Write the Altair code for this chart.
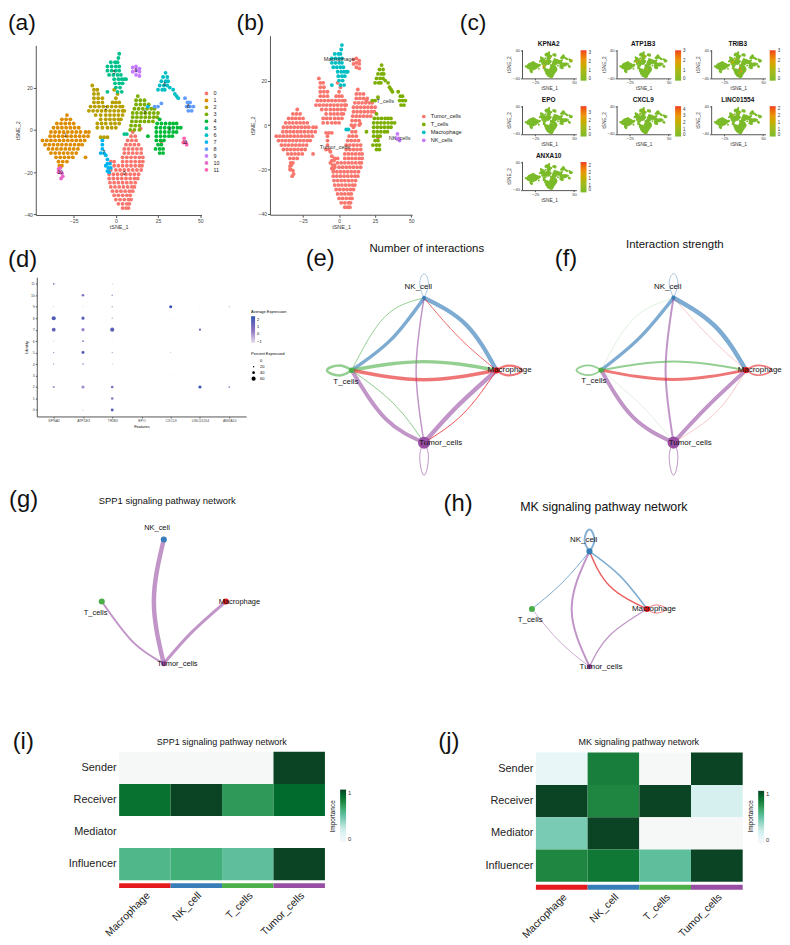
import altair as alt
import pandas as pd

FONT = "Liberation Sans"
AX = "#555555"

# ---------- t-SNE map, read row by row per cluster: (y, [x, ...])
C0 = [(-1,[10]),(-3,[9,11.5]),(-5,[7,9.5,12]),(-7,[6,8.5,11,13.5]),(-9,[5,7.5,10,12.5,15]),(-11,[5,7.5,10,12.5,15]),
      (-13,[4,6.5,9,11.5,14,16]),(-15,[-3,-1,4,6.5,9,11.5,14,16]),(-17,[-1,1.5,4,6.5,9,11.5,14,15.5]),
      (-19,[-3,0,2.5,5,7.5,10,12.5,15]),(-21,[-4,-1.5,1,3.5,6,8.5,11,13.5]),(-23,[-4,-1.5,1,3.5,6,8.5,11,13]),
      (-25,[-3.5,-1,1.5,4,6.5,9,11.5]),(-27,[-3,-.5,2,4.5,7,9.5,11]),(-29,[-2,.5,3,5.5,8,10]),(-31,[-1,1.5,4,6.5,8.5]),
      (-33,[0,2.5,5,7.5,9]),(-35,[1.5,4,6.5,8]),(-37,[4,6,7.5]),(.6,[14.7]),(-5.6,[27])]
C1 = [(7,[-29]),(5,[-32,-29.5,-27]),(3,[-35,-32.5,-30,-27.5,-25]),(1,[-37,-34.5,-32,-29.5,-27,-24.5,-22]),
      (-1,[-38.5,-36,-33.5,-31,-28.5,-26,-23.5,-21,-18,-16]),(-3,[-39,-36.5,-34,-31.5,-29,-26.5,-24,-21.5,-19,-16.5]),
      (-5,[-43.5,-41,-38.5,-36,-33.5,-31,-28.5,-26,-23.5,-21,-18.5]),(-7,[-42,-39.5,-37,-34.5,-32,-29.5,-27,-24.5,-22,-20]),
      (-9,[-40,-37.5,-35,-32.5,-30,-27.5,-25,-22.5]),(-11,[-38.5,-36,-33.5,-31,-28.5,-26,-23.5]),
      (-13,[-35.5,-33,-30.5,-28,-25.5,-18]),(-15,[-34,-31.5,-29]),(-17,[-33.5,-32])]
C2 = [(21,[-14]),(19,[-13,-11,-1]),(17,[-13,-10.5,1]),(15,[-13,-10.5,-8,0]),(13,[-13,-10.5,-8,-2,0,2]),
      (11,[-15,-12.5,-10,-7.5,-5,-2.5,0,2.5,4]),(9,[-16,-13.5,-11,-8.5,-6,-3.5,-1,1.5,4,5]),(7,[-12,-9,-6,-3.5,-1,1.5,4]),
      (5,[-9,-6,-3.5,-1,1.5,3]),(3,[-11,-8.5,-6,-3,-.5,2]),(1,[-11,-8,-5,-2.5,0]),(-3.5,[-9,-7,-5])]
C3 = [(16,[13]),(14,[12,14.5,17]),(12,[12,14.5,17,19.5]),(10,[11,13.5,16,18.5,21,23]),(8,[10,12.5,15,17.5,20,22.5,25]),
      (6,[10,12.5,15,17.5,20,22.5,24.5]),(4,[9.5,12,14.5,17,19.5,22]),(2,[9,11.5,14]),(0,[8.5,11,14])]
C4 = [(5,[26]),(3,[24.5,27,29.5,32,34,36]),(1,[24,26.5,29,31.5,34,36.5,38.5]),(-1,[24,26.5,29,31.5,34,36]),
      (-3,[24,26.5,29,31.5,33.5,19]),(-5,[24,26.5,28.5]),(-7,[25,27]),(-9,[23.5,26,28]),(-11,[26,28])]
C5 = [(36,[2]),(34,[1.5]),(32,[-3,-.5,1]),(30,[-5,-2.5,0,2]),(28,[-5,-2.5,0,2]),(26,[-4,-1.5,1,3]),(24,[-1,1.5,3.5,5,6]),
      (22,[-.5,2,4]),(20,[0,2.5]),(18,[1,3.5,-5]),(-2,[5,6.5])]
C6 = [(27,[29.5]),(25,[28,30.5]),(23,[27,29.5,31]),(21,[26,28.5,30.5]),(19,[25,27.5,29,34]),(20,[32]),(17,[35]),(16,[36]),(15,[37])]
C7 = [(-5,[-8]),(-7,[-8]),(-9,[-8]),(-11,[-9,-7]),(-12,[-6]),(-14,[-5]),(-16,[-5,-3.5]),(-17,[-6]),(-18,[-4.5,-3]),(-19.5,[-5]),(-20,[-4]),(11,[19])]
C8 = [(15,[41]),(13,[42.5,44]),(11,[42,44,46,23,25]),(12.5,[27]),(9,[43,45])]
C9 = [(30,[12]),(29.5,[10]),(29,[14]),(28,[12]),(27.5,[10,14]),(26,[12]),(25.5,[14])]
C10 = [(-18,[-33]),(-18.5,[-34]),(-20,[-33.5,-34]),(-20.5,[-32]),(-22,[-31.5]),(-23,[-32.5])]
C11 = [(-4,[40.5]),(-6,[40,41.5]),(-7,[42])]
CLUSTERS = [C0, C1, C2, C3, C4, C5, C6, C7, C8, C9, C10, C11]
CL_NAMES = [str(i) for i in range(12)]
CL_COLORS = ["#F8766D","#DE8C00","#B79F00","#7CAE00","#00BA38","#00C08B","#00BFC4","#00B4F0","#619CFF","#C77CFF","#E868C8","#FF64B0"]
CL_CENTERS = [(5,-21),(-30,-3),(-6,10),(17,8),(32,0),(-1,27),(29,21),(-7,-11),(43,11),(12,28),(-33,-20.5),(41,-6)]
CELL_OF_CLUSTER = ["Tumor_cells","Tumor_cells","Tumor_cells","Tumor_cells","T_cells","Macrophage","T_cells","Tumor_cells","T_cells","Tumor_cells","Tumor_cells","NK_cells"]
CELL_NAMES = ["Tumor_cells","T_cells","Macrophage","NK_cells"]
CELL_COLORS = ["#F8766D","#7CAE00","#00BFC4","#C77CFF"]
CELL_LABELS = [("Macrophage",0,29.5),("T_cells",32,10.7),("NK_cells",42,-5.7),("Tumor_cells",-3,-9.7)]

rows = []
for k, cl in enumerate(CLUSTERS):
    for y, xs in cl:
        for x in xs:
            rows.append({"x": x, "y": y, "cluster": str(k), "cell": CELL_OF_CLUSTER[k]})
tsne = pd.DataFrame(rows)

# ---------- feature plots
GENES = ["KPNA2","ATP1B3","TRIB3","EPO","CXCL9","LINC01554","ANXA10"]
GENE_MAX = [3.3,3.1,3.05,3.9,4.5,2.2,2.3]
GENE_TICKS = [[0,1,2,3],[0,1,2,3],[0,1,2,3],[0,1,2,3],[0,1,2,3,4],[0,.5,1,1.5,2],[0,.5,1,1.5,2]]
GENE_POINTS = [
 [(-9,-7,2.5),(-8,-4,1.5),(45,12,2),(-5,9,1),(5,22,1)],
 [(-12,8,2),(-5,12,1.5),(3,25,1.5),(8,-15,1)],
 [(-8,8,1.5),(-3,15,1.2),(5,-12,2.5),(8,-20,2),(4,-25,1.5),(-10,5,1.5)],
 [(10,-10,.5)],
 [(3,30,2),(-5,20,1.5)],
 [(-8,15,.8),(3,22,.8)],
 [(8,-10,.5)],
]

# ---------- dot plot
FEATURES = GENES
IDS = [str(i) for i in range(12)]
DOT_PCT = [[8,8,30,4,17,17,13,56,60,13,6,25],[15,8,47,4,20,43,25,47,47,12,38,8],[43,38,38,8,12,17,8,60,17,22,25,12],
           [4,1,1,1,1,1,1,3,1,1,1,1],[1,1,4,6,5,9,5,3,6,45,1,1],[4,1,45,1,4,3,1,30,1,8,1,1],[3,2,20,1,1,1,1,4,1,12,1,2]]
DOT_EXP = [[-.6,-.6,.2,-.8,.7,.8,.2,1.6,2,-.2,-.5,.9],[-.3,-.7,.1,-.9,1,1.9,1,.3,1.8,-.4,.8,-.6],[1.8,.5,1,-.6,.3,.1,-.5,1.7,.1,-.2,-.2,.2],
           [.2,-1,-1,-1,-1,-1,-1,-.6,-1,-1,-1,-1],[-1,-1,-.4,.2,.1,1.8,.2,-.8,.4,2.3,-1,-1],[-.3,-1,2.4,-1,-.2,-.5,-1,1.7,-1,.3,-1,-.8],[-.7,-.9,2.2,-1,-1,-1,-1,.1,-1,2.2,-1,-1]]

# ---------- networks (unit-circle layout)
NODES = ["Macrophage","NK_cell","T_cells","Tumor_cells"]
NODE_COLORS = ["#E41A1C","#377EB8","#4DAF4A","#984EA3"]
POS = {"NK_cell":(0,1),"T_cells":(-1,0),"Macrophage":(1,0),"Tumor_cells":(0,-1)}
# (source, target, mid u, mid v, width, alpha)
E_EDGES = [("NK_cell","Macrophage",.58,.63,4.2,.65),("NK_cell","T_cells",-.46,.42,3.5,.65),("T_cells","NK_cell",-.54,.74,1,.6),
           ("Macrophage","NK_cell",.49,.445,1,.65),("Tumor_cells","NK_cell",-.11,0,1.5,.6),("T_cells","Macrophage",0,.12,3.5,.6),
           ("Macrophage","T_cells",0,-.13,3.5,.6),("Tumor_cells","T_cells",-.53,-.67,4,.6),("T_cells","Tumor_cells",-.42,-.46,1,.65),
           ("Tumor_cells","Macrophage",.445,-.51,4.5,.6),("Macrophage","Tumor_cells",.54,-.6,1,.75)]
F_EDGES = [("NK_cell","Macrophage",.58,.6,4.5,.65),("NK_cell","T_cells",-.47,.445,3.5,.65),("T_cells","NK_cell",-.56,.7,.5,.35),
           ("Macrophage","NK_cell",.51,.445,.6,.4),("Tumor_cells","NK_cell",-.11,0,2,.6),("T_cells","Macrophage",0,.12,2,.6),
           ("Macrophage","T_cells",0,-.13,3,.6),("Tumor_cells","T_cells",-.56,-.65,4,.6),("T_cells","Tumor_cells",-.42,-.51,.5,.35),
           ("Tumor_cells","Macrophage",.46,-.51,4,.6),("Macrophage","Tumor_cells",.59,-.58,.6,.4)]
G_EDGES = [("Tumor_cells","NK_cell",-.16,0,4.5,.6),("Tumor_cells","T_cells",-.5,-.65,2,.6),("Tumor_cells","Macrophage",.456,-.49,3,.6)]
H_EDGES = [("NK_cell","Macrophage",.53,.575,1.5,.65),("Macrophage","NK_cell",.35,.40,1.5,.7),("NK_cell","T_cells",-.47,.46,1,.65),
           ("Tumor_cells","NK_cell",-.31,0,2,.6),("Tumor_cells","T_cells",-.51,-.575,.8,.6),("Tumor_cells","Macrophage",.35,-.46,1.3,.6)]
LOOP_T = [(-1,0),(-1.17,.065),(-1.34,0),(-1.17,-.07),(-1,0)]
LOOP_M = [(1,0),(1.17,.065),(1.35,0),(1.17,-.07),(1,0)]
LOOP_N = [(0,1),(.06,1.2),(0,1.33),(-.06,1.2),(0,1)]
LOOP_U = [(0,-1),(.06,-1.2),(0,-1.45),(-.06,-1.2),(0,-1)]
E_LOOPS = [("T_cells",LOOP_T,2.5,.6),("Macrophage",LOOP_M,2.2,.6),("NK_cell",LOOP_N,.7,.6),("Tumor_cells",LOOP_U,1,.6)]
F_LOOPS = [("T_cells",LOOP_T,1.8,.6),("Macrophage",LOOP_M,1.6,.6),("NK_cell",LOOP_N,.7,.6),("Tumor_cells",LOOP_U,1,.6)]
H_LOOPS = [("NK_cell",[(0,1),(.085,1.2),(0,1.38),(-.085,1.2),(0,1)],2,.6),("Macrophage",[(1,0),(1.16,.07),(1.33,0),(1.16,-.07),(1,0)],.8,.7)]
E_SIZES = [40,12,30,150]
G_SIZES = [38,38,38,28]
E_LABELS = [("NK_cell",-.08,1.15),("T_cells",-1.08,-.155),("Macrophage",1.18,0),("Tumor_cells",.23,-1)]
F_LABELS = [("NK_cell",-.08,1.15),("T_cells",-1.1,-.155),("Macrophage",1.19,0),("Tumor_cells",.23,-1)]
G_LABELS = [("NK_cell",-.11,1.19),("T_cells",-1.1,-.18),("Macrophage",1.22,0),("Tumor_cells",.22,-1)]
H_LABELS = [("NK_cell",-.1,1.19),("T_cells",-1.03,-.19),("Macrophage",1.12,0),("Tumor_cells",.2,-1)]

# ---------- heatmaps
ROLES = ["Sender","Receiver","Mediator","Influencer"]
I_VALS = [[0,0,0,1],[.85,1,.7,.88],[None,None,None,None],[.57,.62,.52,1]]
J_VALS = [[.1,.8,0,1],[1,.77,1,.2],[.45,1,0,0],[.77,.83,.52,1]]
BUGN_STOPS = [0,.125,.25,.375,.5,.625,.75,.875,1]
BUGN = ["#F6F8F8","#E5F5F9","#CCECE6","#99D8C9","#66C2A4","#41AE76","#238B45","#006D2C","#0B4425"]

INDEP = dict(color="independent", size="independent", fill="independent", opacity="independent")
R1, R2, R3, R4 = 8, 232, 480, 730


def annot(text, x, y, size, align="center", weight="normal", angle=0, color="#111111"):
    d = pd.DataFrame({"t": [text]})
    return alt.Chart(d).mark_text(fontSize=size, align=align, baseline="alphabetic", fontWeight=weight,
                                  angle=angle, color=color).encode(x=alt.value(x), y=alt.value(y), text="t:N")


def spacer(w, h=1):
    d = pd.DataFrame({"a": [0]})
    return alt.Chart(d).mark_point(opacity=0, size=0, strokeWidth=0).encode(x=alt.value(0), y=alt.value(0)).properties(width=w, height=h)


def axis(values, title, lab=5, tit=5.5, pad=2, tick=2.5):
    return alt.Axis(values=values, title=title, grid=False, labelFontSize=lab, titleFontSize=tit, tickSize=tick,
                    domainColor=AX, tickColor=AX, labelColor="#444444", titleColor="#333333", titleFontWeight="normal",
                    titlePadding=pad, labelPadding=1, labelFlush=False, labelOverlap=False)


def tsne_base(xd, yd, w, h, ytop, xax, yax):
    return alt.Chart(tsne).encode(
        x=alt.X("x:Q", scale=alt.Scale(domain=xd, nice=False, zero=False), axis=xax),
        y=alt.Y("y:Q", scale=alt.Scale(domain=yd, range=[h, ytop], nice=False, zero=False), axis=yax))


# panel a
AL, AT, AW, AH = 36, R1, 167, 205
a_pts = tsne_base([-47.5, 50.8], [-40.3, 40], AW, AH, 34, axis([-25, 0, 25, 50], "tSNE_1", pad=1.5),
                  axis([-40, -20, 0, 20], "tSNE_2", pad=3)).mark_circle(size=15, opacity=1).encode(
    color=alt.Color("cluster:N", scale=alt.Scale(domain=CL_NAMES, range=CL_COLORS),
                    legend=alt.Legend(orient="none", legendX=169, legendY=79, title=None, labelFontSize=5.5, symbolSize=14,
                                      symbolType="circle", clipHeight=7, rowPadding=0, labelColor="#222222", symbolOffset=0)))
a_txt = alt.Chart(pd.DataFrame({"x": [c[0] for c in CL_CENTERS], "y": [c[1] for c in CL_CENTERS], "t": CL_NAMES})).mark_text(
    fontSize=4.5, color="#111111").encode(x=alt.X("x:Q"), y=alt.Y("y:Q"), text="t:N")
panel_a = alt.layer(a_pts, a_txt, annot("(a)", 8 - AL, 26.5 - AT, 23, "left")).properties(width=AW, height=AH)

# panel b
BL, BT, BW, BH = 271.7, R1, 143.3, 204.7
b_pts = tsne_base([-47.9, 50.7], [-40.35, 40.2], BW, BH, 24.3, axis([-25, 0, 25, 50], "tSNE_1", pad=1.5),
                  axis([-40, -20, 0, 20], "tSNE_2", pad=3)).mark_circle(size=15, opacity=1).encode(
    color=alt.Color("cell:N", scale=alt.Scale(domain=CELL_NAMES, range=CELL_COLORS),
                    legend=alt.Legend(orient="none", legendX=152, legendY=102, title=None, labelFontSize=5.6, symbolSize=14,
                                      symbolType="circle", clipHeight=7.4, rowPadding=0, labelColor="#222222")))
b_txt = alt.Chart(pd.DataFrame({"x": [c[1] for c in CELL_LABELS], "y": [c[2] for c in CELL_LABELS], "t": [c[0] for c in CELL_LABELS]})).mark_text(
    fontSize=5.6, color="#333333").encode(x=alt.X("x:Q"), y=alt.Y("y:Q"), text="t:N")
panel_b = alt.layer(b_pts, b_txt, annot("(b)", 238 - BL, 26.5 - BT, 23, "left"), annot("(c)", 463 - BL, 26.5 - BT, 23, "left")).properties(width=BW, height=BH)


# panel c
def feature(i):
    w, h = 54.7, 29
    base = tsne_base([-50.6, 54.5], [-41, 43.7], w, h, 0, axis([-25, 0, 25, 50], "tSNE_1", 4.2, 4.8, 1, 1.5),
                     axis([-40, -20, 0, 20, 40], "tSNE_2", 4.2, 4.8, 1, 1.5)).mark_circle(size=4, opacity=1, color="#7CBB2B")
    d = pd.DataFrame(GENE_POINTS[i], columns=["x", "y", "v"])
    hi = alt.Chart(d).mark_circle(size=4, opacity=1).encode(
        x="x:Q", y="y:Q",
        color=alt.Color("v:Q", scale=alt.Scale(domain=[0, GENE_MAX[i]], range=["#7CBB2B", "#A9B81A", "#E89A12", "#F03A20"]),
                        legend=alt.Legend(orient="none", legendX=59, legendY=.7, title=None, values=GENE_TICKS[i], gradientLength=30.6,
                                          gradientThickness=6, labelFontSize=4.5, labelOverlap=False, labelColor="#333333",
                                          gradientStrokeWidth=0)))
    return alt.layer(base, hi, annot(GENES[i], w / 2 - .5, -3.5, 6.5, weight="bold")).properties(width=w, height=h)


panel_c = alt.concat(spacer(54.7, 10.7), spacer(54.7, 10.7), spacer(54.7, 10.7), *[feature(i) for i in range(7)], columns=3,
                     spacing={"row": 27.3, "column": 40.3}, bounds="flush").resolve_scale(**INDEP)

# panel d
DL, DT, DW, DH = 37, R2, 211, 184
dot = pd.DataFrame([{"f": FEATURES[i], "id": IDS[j], "pct": DOT_PCT[i][j], "exp": DOT_EXP[i][j]} for i in range(7) for j in range(12)])
d_pts = alt.Chart(dot).mark_circle(opacity=1).encode(
    x=alt.X("f:N", sort=FEATURES, scale=alt.Scale(type="point", padding=.58),
            axis=alt.Axis(title="Features", labelAngle=0, labelFontSize=3.5, titleFontSize=4, tickSize=1.5, domainColor=AX, tickColor=AX,
                          labelColor="#444444", titleFontWeight="normal", titlePadding=2, labelPadding=1, grid=False)),
    y=alt.Y("id:N", scale=alt.Scale(type="point", domain=IDS, range=[DH, 43.7], padding=.57),
            axis=alt.Axis(title="Identity", labelFontSize=3.5, titleFontSize=4, tickSize=1.5, domainColor=AX, tickColor=AX,
                          labelColor="#444444", titleFontWeight="normal", titlePadding=2, labelPadding=1, grid=False)),
    size=alt.Size("pct:Q", scale=alt.Scale(type="pow", exponent=2, domain=[0, 60], range=[.1, 17]),
                  legend=alt.Legend(orient="none", legendX=216, legendY=119, title="Percent Expressed", values=[0, 20, 40, 60], titleFontSize=4,
                                    titleFontWeight="normal", labelFontSize=4, clipHeight=5.8, rowPadding=0, titlePadding=2,
                                    symbolFillColor="black", symbolStrokeWidth=0, symbolType="circle")),
    color=alt.Color("exp:Q", scale=alt.Scale(domain=[-1.2, .5, 2.5], range=["#E8E2F0", "#8F75C0", "#2A52B0"]),
                    legend=alt.Legend(orient="none", legendX=216, legendY=77, title="Average Expression", values=[-1, 0, 1, 2], titleFontSize=4,
                                      titleFontWeight="normal", labelFontSize=4, gradientLength=27, gradientThickness=4, titlePadding=2,
                                      gradientStrokeWidth=0, labelOverlap=False)))
panel_d = alt.layer(d_pts, annot("(d)", 8 - DL, 265 - DT, 24, "left")).properties(width=DW, height=DH)


# networks
def network(edges, loops, sizes, labels, cx, cy, R, left, right, top, bottom, fs, extra):
    pts = []
    n = 0
    for s, t, mu, mv, w, al in edges:
        for i, (u, v) in enumerate([POS[s], (mu, mv), POS[t]]):
            pts.append({"e": n, "i": i, "u": u, "v": v, "src": s, "w": w, "al": al})
        n += 1
    for s, path, w, al in loops:
        for i, (u, v) in enumerate(path):
            pts.append({"e": n, "i": i, "u": u, "v": v, "src": s, "w": w, "al": al})
        n += 1
    W, H = right - left, bottom - top
    xs = alt.Scale(domain=[(left - cx) / R, (right - cx) / R], nice=False, zero=False)
    ys = alt.Scale(domain=[(cy - bottom) / R, (cy - top) / R], nice=False, zero=False)
    col = alt.Scale(domain=NODES, range=NODE_COLORS)
    lines = alt.Chart(pd.DataFrame(pts)).mark_line(interpolate="natural", strokeCap="round").encode(
        x=alt.X("u:Q", scale=xs, axis=None), y=alt.Y("v:Q", scale=ys, axis=None), detail="e:N", order="i:Q",
        color=alt.Color("src:N", scale=col, legend=None), size=alt.Size("w:Q", scale=None, legend=None),
        opacity=alt.Opacity("al:Q", scale=None, legend=None))
    nd = pd.DataFrame({"n": NODES, "u": [POS[k][0] for k in NODES], "v": [POS[k][1] for k in NODES], "s": sizes})
    dots = alt.Chart(nd).mark_circle(opacity=1).encode(x="u:Q", y="v:Q", color=alt.Color("n:N", scale=col, legend=None),
                                                       size=alt.Size("s:Q", scale=None, legend=None))
    lab = pd.DataFrame(labels, columns=["t", "u", "v"])
    txt = alt.Chart(lab).mark_text(fontSize=fs, color="#111111").encode(x="u:Q", y="v:Q", text="t:N")
    ex = [annot(t, x - left, y - top, s, al) for t, x, y, s, al in extra]
    return alt.layer(lines, dots, txt, *ex).properties(width=W, height=H)


panel_e = network(E_EDGES, E_LOOPS, E_SIZES, E_LABELS, 427.3, 369.5, 73, 300, 550, R2, R3, 8,
                  [("(e)", 308, 264, 24, "left"), ("Number of interactions", 430, 250, 11.5, "center")])
panel_f = network(F_EDGES, F_LOOPS, E_SIZES, F_LABELS, 677.7, 369.3, 73, 550, 780, R2, R3, 8,
                  [("(f)", 558, 264, 24, "left"), ("Interaction strength", 679, 246.5, 11.5, "center")])
panel_g = network(G_EDGES, [], G_SIZES, G_LABELS, 164, 602.5, 62.5, 8, 400, R3, R4, 7.5,
                  [("(g)", 8, 507, 24, "left"), ("SPP1 signaling pathway network", 167.5, 504, 9.5, "center")])
panel_h = network(H_EDGES, H_LOOPS, G_SIZES, H_LABELS, 592, 610, 58, 400, 778, R3, R4, 8,
                  [("(h)", 445, 511, 24, "left"), ("MK signaling pathway network", 606.5, 511.5, 12.5, "center")])


# heatmaps
def heat(vals, left, right, top, bottom, view_top, title, tx, lx, ly, itx, letter, ltx, lty):
    W, H = right - left, bottom - view_top
    d = pd.DataFrame([{"c": NODES[j], "r": ROLES[i], "v": vals[i][j]} for i in range(4) for j in range(4) if vals[i][j] is not None])
    xs = alt.Scale(domain=NODES, paddingInner=0, paddingOuter=0)
    cells = alt.Chart(d).mark_rect().encode(
        x=alt.X("c:N", scale=xs, axis=alt.Axis(title=None, labelAngle=-45, labelAlign="right", labelBaseline="top", labelFontSize=10.5, domain=False,
                                               ticks=False, offset=7, labelPadding=3, labelColor="#222222", labelOverlap=False)),
        y=alt.Y("r:N", scale=alt.Scale(domain=ROLES, range=[top - view_top, H], paddingInner=0, paddingOuter=0),
                axis=alt.Axis(title=None, labelFontSize=11, domain=False, ticks=False, labelPadding=3, labelColor="#222222")),
        color=alt.Color("v:Q", scale=alt.Scale(domain=BUGN_STOPS, range=BUGN),
                        legend=alt.Legend(orient="none", legendX=lx - left, legendY=ly - view_top, title=None, values=[0, 1], gradientLength=53, format="d",
                                          gradientThickness=6, labelFontSize=6, gradientStrokeWidth=0, labelColor="#333333", labelOverlap=False)))
    ann = alt.Chart(pd.DataFrame({"c": NODES, "k": NODE_COLORS})).mark_rect().encode(
        x=alt.X("c:N", scale=xs), y=alt.value(H + 3), y2=alt.value(H + 8), fill=alt.Fill("k:N", scale=None, legend=None))
    return alt.layer(cells, ann, annot(title, tx - left, 747 - view_top, 9), annot("Importance", itx - left, 819 - view_top, 6.5, angle=270),
                     annot(letter, ltx - left, lty - view_top, 24, "left")).properties(width=W, height=H)


panel_i = heat(I_VALS, 119.3, 326.7, 754, 883.3, R4, "SPP1 signaling pathway network", 222.7, 342, 792, 337, "(i)", 12, 751)
panel_j = heat(J_VALS, 538.3, 746.7, 754.7, 885, R4, "MK signaling pathway network", 642, 762.3, 793.3, 757, "(j)", 440, 751)


def place(row_h, *items):
    cells = []
    cursor = 8
    for k, (ch, left, right) in enumerate(items):
        cells.append(spacer(max(left - cursor, 0.01), row_h if k == 0 else 1))
        cells.append(ch)
        cursor = right if right is not None else left
    return alt.hconcat(*cells, spacing=0, bounds="flush").resolve_scale(**INDEP)


chart = alt.vconcat(place(R2 - R1, (panel_a, AL, AL + AW), (panel_b, BL, BL + BW), (panel_c, 524.3, None)),
                    place(R3 - R2, (panel_d, DL, DL + DW), (panel_e, 300, 550), (panel_f, 550, 780)),
                    place(R4 - R3, (panel_g, 8, 400), (panel_h, 400, 778)),
                    place(205, (panel_i, 119.3, 326.7), (panel_j, 538.3, 746.7)),
                    spacing=0).resolve_scale(**INDEP).properties(padding=0, background="white"
).configure(font=FONT).configure_view(stroke=None)

chart.save("out.html", embed_options={"renderer": "svg", "actions": False})
